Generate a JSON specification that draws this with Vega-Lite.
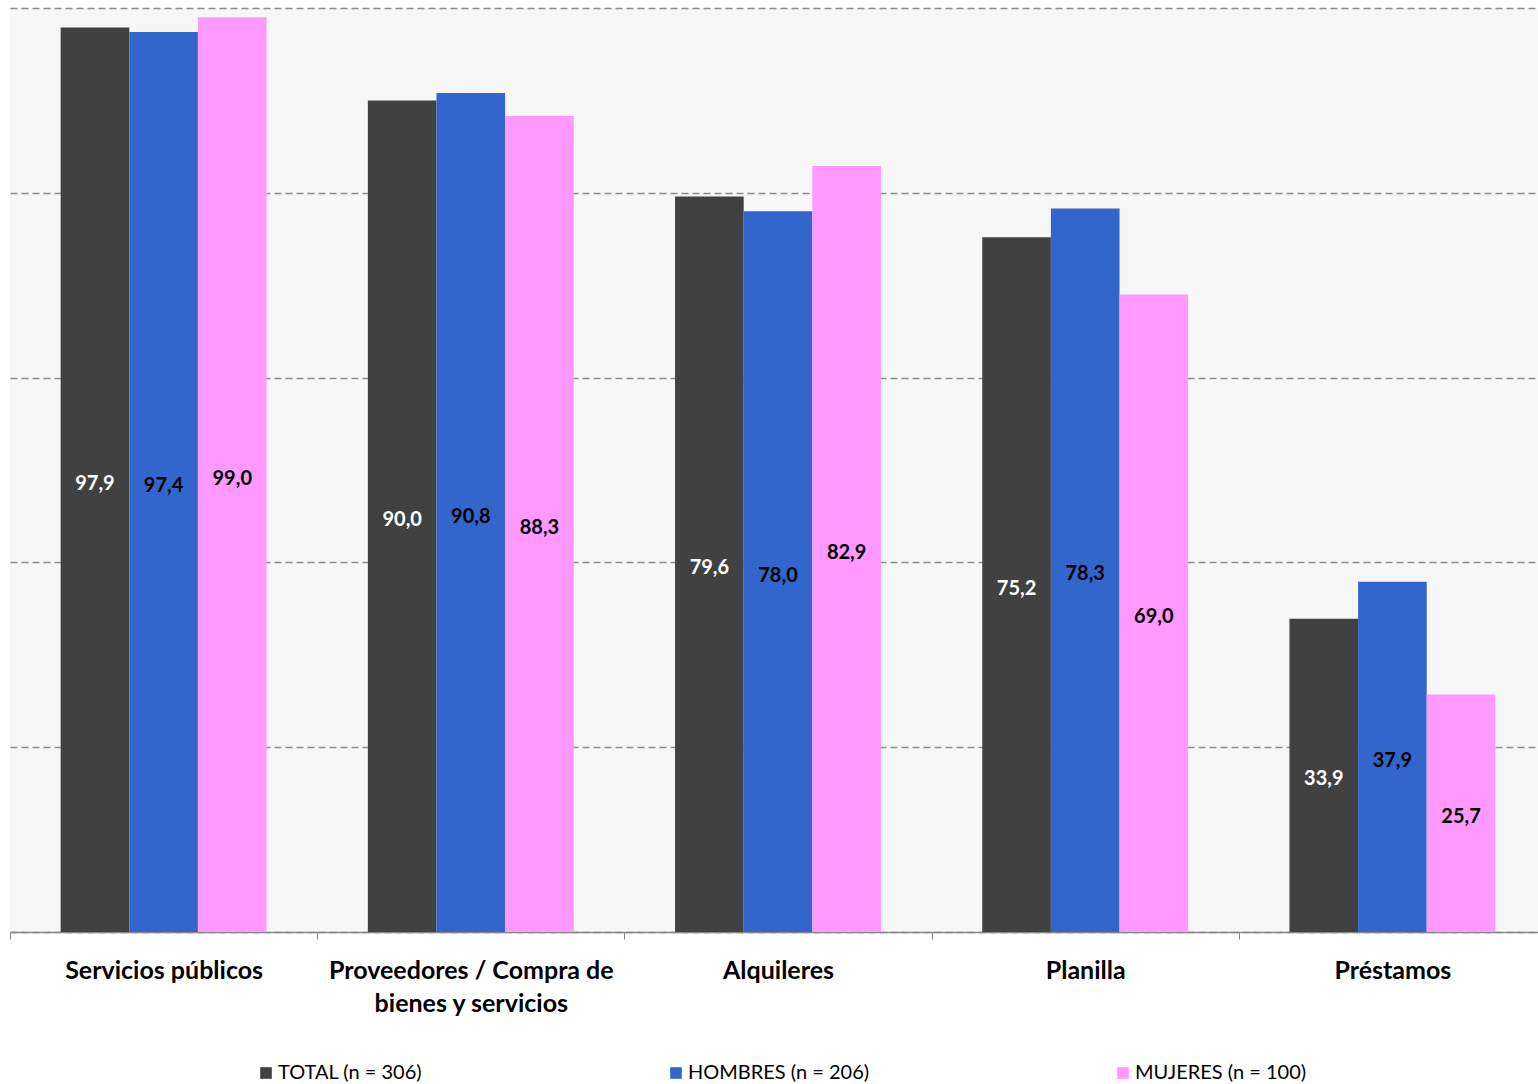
{
  "$schema": "https://vega.github.io/schema/vega-lite/v6.json",
  "width": 1528,
  "height": 924,
  "autosize": {"type": "none"},
  "padding": {"left": 10, "top": 8, "right": 0, "bottom": 152},
  "background": "white",
  "config": {
    "locale": {"number": {"decimal": ",", "thousands": ".", "grouping": [3], "currency": ["", " €"]}},
    "view": {"fill": "#f7f7f7", "stroke": null},
    "font": "Lato"
  },
  "data": {
    "values": [
      {"categoria": "Servicios públicos", "serie": "TOTAL (n = 306)", "valor": 97.9},
      {"categoria": "Servicios públicos", "serie": "HOMBRES (n = 206)", "valor": 97.4},
      {"categoria": "Servicios públicos", "serie": "MUJERES (n = 100)", "valor": 99.0},
      {"categoria": "Proveedores / Compra de bienes y servicios", "serie": "TOTAL (n = 306)", "valor": 90.0},
      {"categoria": "Proveedores / Compra de bienes y servicios", "serie": "HOMBRES (n = 206)", "valor": 90.8},
      {"categoria": "Proveedores / Compra de bienes y servicios", "serie": "MUJERES (n = 100)", "valor": 88.3},
      {"categoria": "Alquileres", "serie": "TOTAL (n = 306)", "valor": 79.6},
      {"categoria": "Alquileres", "serie": "HOMBRES (n = 206)", "valor": 78.0},
      {"categoria": "Alquileres", "serie": "MUJERES (n = 100)", "valor": 82.9},
      {"categoria": "Planilla", "serie": "TOTAL (n = 306)", "valor": 75.2},
      {"categoria": "Planilla", "serie": "HOMBRES (n = 206)", "valor": 78.3},
      {"categoria": "Planilla", "serie": "MUJERES (n = 100)", "valor": 69.0},
      {"categoria": "Préstamos", "serie": "TOTAL (n = 306)", "valor": 33.9},
      {"categoria": "Préstamos", "serie": "HOMBRES (n = 206)", "valor": 37.9},
      {"categoria": "Préstamos", "serie": "MUJERES (n = 100)", "valor": 25.7}
    ]
  },
  "encoding": {
    "x": {
      "field": "categoria",
      "type": "nominal",
      "sort": null,
      "scale": {"paddingInner": 0, "paddingOuter": 0, "range": [0, 1536]},
      "axis": {
        "title": null,
        "labelAngle": 0,
        "labelFontSize": 25,
        "labelFontWeight": "bold",
        "labelColor": "#000000",
        "labelPadding": 19,
        "labelLineHeight": 33,
        "labelLimit": 500,
        "labelExpr": "datum.value == 'Proveedores / Compra de bienes y servicios' ? ['Proveedores / Compra de', 'bienes y servicios'] : datum.value",
        "tickBand": "extent",
        "tickSize": 7,
        "tickColor": "#888888",
        "domainColor": "#888888",
        "domainWidth": 1.5,
        "grid": false
      }
    },
    "xOffset": {
      "field": "serie",
      "type": "nominal",
      "sort": ["TOTAL (n = 306)", "HOMBRES (n = 206)", "MUJERES (n = 100)"],
      "scale": {"paddingInner": 0, "paddingOuter": 0.738}
    }
  },
  "layer": [
    {
      "mark": {"type": "bar"},
      "encoding": {
        "y": {
          "field": "valor",
          "type": "quantitative",
          "scale": {"domain": [0, 100], "nice": false},
          "axis": {
            "title": null,
            "labels": false,
            "ticks": false,
            "domain": false,
            "values": [0, 20, 40, 60, 80, 100],
            "grid": true,
            "gridColor": "#8c8c8c",
            "gridDash": [7, 4],
            "gridWidth": 1.3
          }
        },
        "color": {
          "field": "serie",
          "type": "nominal",
          "sort": ["TOTAL (n = 306)", "HOMBRES (n = 206)", "MUJERES (n = 100)"],
          "scale": {
            "domain": ["TOTAL (n = 306)", "HOMBRES (n = 206)", "MUJERES (n = 100)"],
            "range": ["#414141", "#3366cc", "#ff99ff"]
          },
          "legend": {
            "title": null,
            "orient": "none",
            "direction": "horizontal",
            "legendX": 246,
            "legendY": 1055,
            "symbolType": "square",
            "symbolSize": 135,
            "symbolStrokeWidth": 0,
            "labelFontSize": 20,
            "labelColor": "#000000",
            "labelFont": "Lato",
            "labelLimit": 400,
            "columnPadding": 243,
            "padding": 0,
            "labelOffset": 2
          }
        }
      }
    },
    {
      "mark": {"type": "text", "fontSize": 20, "fontWeight": "bold", "baseline": "middle", "align": "center", "dy": 4},
      "encoding": {
        "y": {
          "field": "valor",
          "type": "quantitative",
          "scale": {"domain": [0, 200], "nice": false},
          "axis": null
        },
        "text": {"field": "valor", "type": "quantitative", "format": ".1f"},
        "color": {
          "condition": {"test": "datum.serie == 'TOTAL (n = 306)'", "value": "#ffffff"},
          "value": "#000000"
        }
      }
    }
  ],
  "resolve": {"scale": {"y": "independent"}}
}
